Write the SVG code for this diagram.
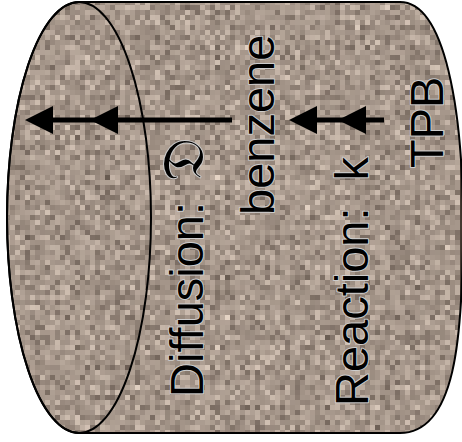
<svg xmlns="http://www.w3.org/2000/svg" width="462" height="442" viewBox="0 0 462 442">
  <style>
    .outline { fill: none; stroke: #000; stroke-width: 2; }
    .lbl { font-family: "Liberation Sans", Arial, "DejaVu Sans", sans-serif; font-size: 47px; fill: #000; stroke: #cdcdcd; stroke-width: 2; paint-order: stroke; stroke-linejoin: round; }
    .conn { stroke: #000; stroke-width: 5; fill: none; }
    .head { fill: #000; stroke: none; }
  </style>
  <defs>
    <filter id="grain" filterUnits="userSpaceOnUse" x="0" y="0" width="462" height="442" color-interpolation-filters="sRGB">
      <feTurbulence type="fractalNoise" baseFrequency="0.7" numOctaves="1" seed="7" result="noise"/>
      <feFlood x="2" y="2" width="1" height="1" flood-color="#000" flood-opacity="1"/>
      <feComposite width="5" height="5"/>
      <feTile result="dots"/>
      <feComposite in="noise" in2="dots" operator="in"/>
      <feMorphology operator="dilate" radius="2"/>
      <feColorMatrix type="matrix" values="0.75 0 0 0 0.272  0.73 0 0 0 0.223  0.7 0 0 0 0.191  0 0 0 0 1"/>
    </filter>
    <clipPath id="cylClip">
      <path d="M79,2 L400,2 C445,2 463,110 463,225 C463,340 455,433 400,433 L79,433 A72,215.5 0 0 1 79,2 Z"/>
    </clipPath>
  </defs>

  <g id="cylinder">
    <rect x="0" y="0" width="462" height="442" fill="#a5978b" clip-path="url(#cylClip)"/>
    <g clip-path="url(#cylClip)">
      <rect x="0" y="0" width="462" height="442" filter="url(#grain)"/>
    </g>
    <path class="outline" d="M79,2 L400,2 C445,2 463,110 463,225 C463,340 455,433 400,433 L79,433 A72,215.5 0 0 1 79,2 Z"/>
    <ellipse class="outline" cx="79" cy="217.5" rx="72" ry="215.5"/>
  </g>

  <g id="connectors">
    <line class="conn" x1="232" y1="120" x2="50" y2="120"/>
    <polygon class="head" points="25,120 53,106 53,134"/>
    <polygon class="head" points="90,120 118,106 118,134"/>
    <line class="conn" x1="384" y1="120" x2="315" y2="120"/>
    <polygon class="head" points="289,120 317,106 317,134"/>
    <polygon class="head" points="338,120 366,106 366,134"/>
  </g>

  <g id="label-diffusion">
    <text class="lbl" transform="translate(203,397) rotate(-90)">Diffusion: <tspan dx="8" font-size="58">𝔇</tspan></text>
  </g>
  <g id="label-benzene">
    <text class="lbl" transform="translate(274,215) rotate(-90)">benzene</text>
  </g>
  <g id="label-reaction">
    <text class="lbl" transform="translate(368,406) rotate(-90)">Reaction: <tspan dx="14">k</tspan></text>
  </g>
  <g id="label-tpb">
    <text class="lbl" transform="translate(443,168) rotate(-90)">TPB</text>
  </g>
</svg>
